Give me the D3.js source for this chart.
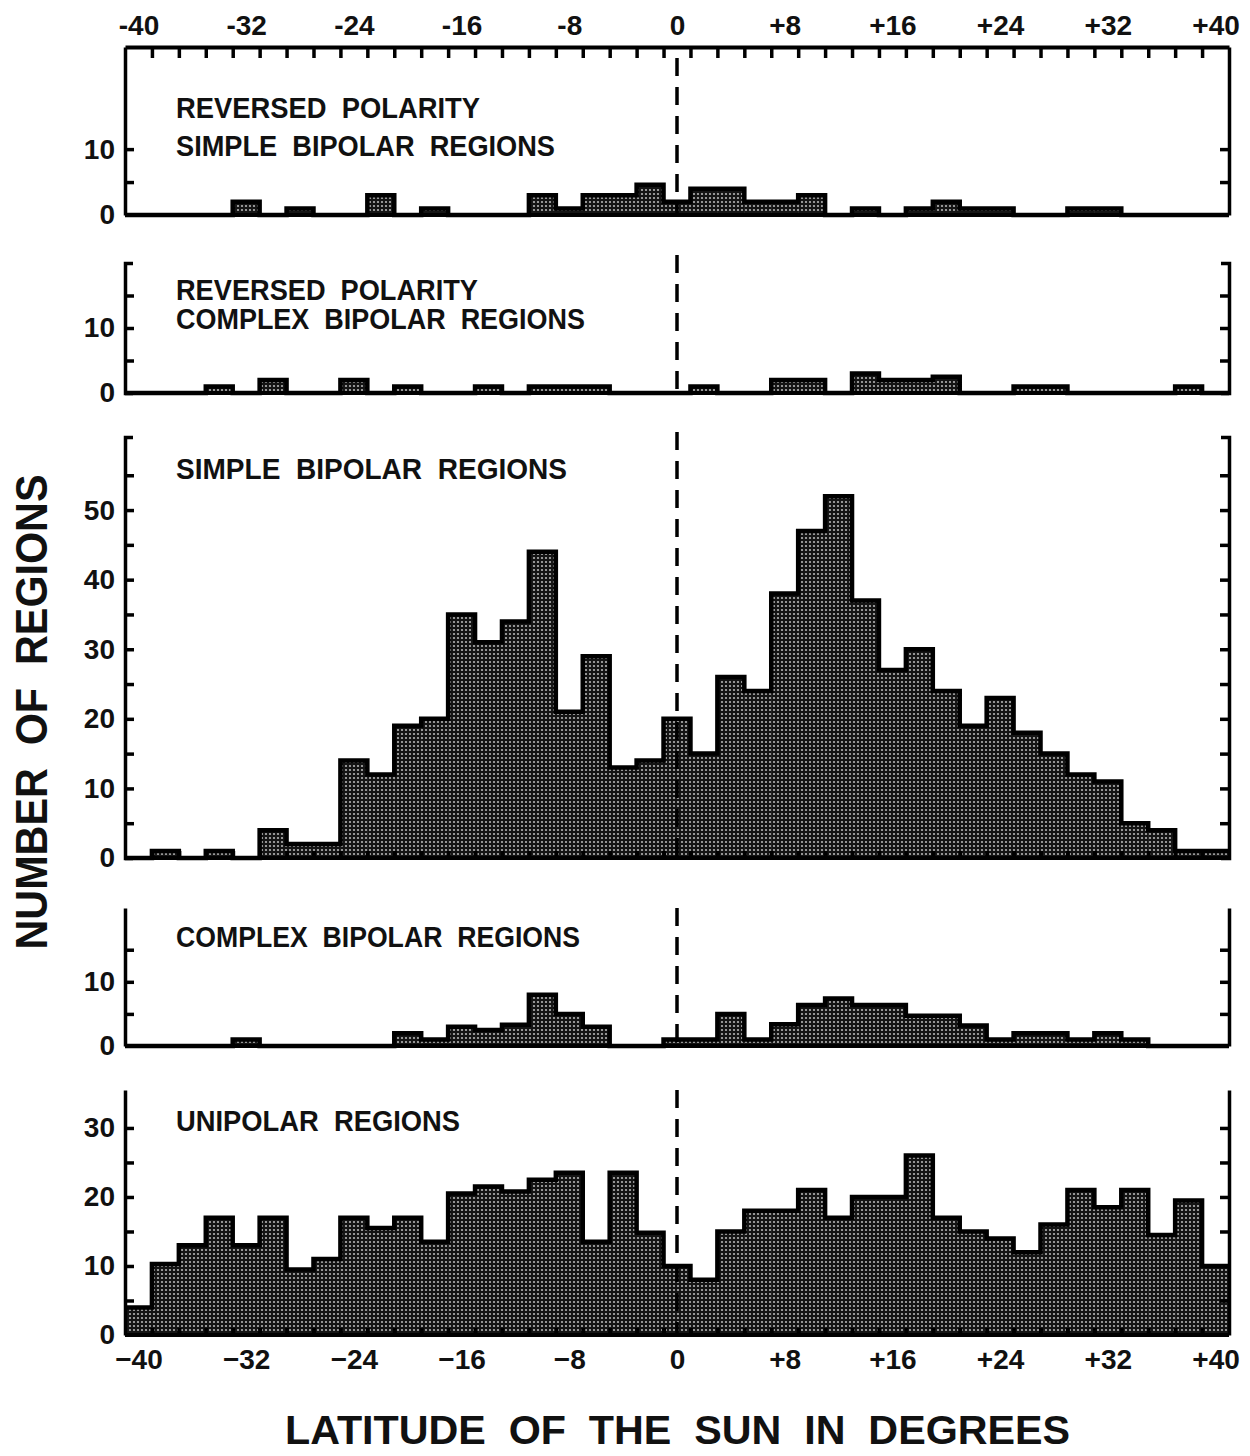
<!DOCTYPE html>
<html>
<head>
<meta charset="utf-8">
<script src="https://cdn.jsdelivr.net/npm/d3@7"></script>
<style>
  body { margin: 0; background: #fff; }
  text { font-family: "Liberation Sans", Arial, sans-serif; font-weight: bold; fill: #111; }
</style>
</head>
<body>
<div id="chart-area"></div>
<script>
// latitude bins (2 degree wide, centred on even degrees)
const latitudes = [-40, -38, -36, -34, -32, -30, -28, -26, -24, -22, -20, -18, -16, -14, -12, -10, -8, -6, -4, -2,
	0, 2, 4, 6, 8, 10, 12, 14, 16, 18, 20, 22, 24, 26, 28, 30, 32, 34, 36, 38, 40];

const revSimple = [0, 0, 0, 0, 2, 0, 1, 0, 0, 3, 0, 1, 0, 0, 0, 3, 1, 3, 3, 4.6,
	2, 4, 4, 2, 2, 3, 0, 1, 0, 1, 2, 1, 1, 0, 0, 1, 1, 0, 0, 0, 0];

const revComplex = [0, 0, 0, 1, 0, 2, 0, 0, 2, 0, 1, 0, 0, 1, 0, 1, 1, 1, 0, 0,
	0, 1, 0, 0, 2, 2, 0, 3, 2, 2, 2.5, 0, 0, 1, 1, 0, 0, 0, 0, 1, 0];

const simpleBipolar = [0, 1, 0, 1, 0, 4, 2, 2, 14, 12, 19, 20, 35, 31, 34, 44, 21, 29, 13, 14,
	20, 15, 26, 24, 38, 47, 52, 37, 27, 30, 24, 19, 23, 18, 15, 12, 11, 5, 4, 1, 1];

const complexBipolar = [0, 0, 0, 0, 1, 0, 0, 0, 0, 0, 2, 1, 3, 2.5, 3.3, 8, 5, 3, 0, 0,
	1, 1, 5, 1, 3.4, 6.4, 7.4, 6.4, 6.4, 4.7, 4.7, 3.2, 1, 2, 2, 1, 2, 1, 0, 0, 0];

const unipolar = [4, 10.3, 13, 17, 13, 17, 9.5, 11, 17, 15.5, 17, 13.5, 20.5, 21.5, 20.8, 22.5, 23.5, 13.5, 23.5, 14.8,
	10, 8, 15, 18, 18, 21, 17, 20, 20, 26, 17, 15, 14, 12, 16, 21, 18.5, 21, 14.5, 19.5, 10];

// axis labels
const xTickValues = [-40, -32, -24, -16, -8, 0, 8, 16, 24, 32, 40];
const xTopLabels = ["-40", "-32", "-24", "-16", "-8", "0", "+8", "+16", "+24", "+32", "+40"];
const xBottomLabels = ["\u221240", "\u221232", "\u221224", "\u221216", "\u22128", "0", "+8", "+16", "+24", "+32", "+40"];

const width = 1250, height = 1456;

let svg = d3.select("#chart-area")
	.append("svg")
	.attr("width", width)
	.attr("height", height);

svg.append("rect").attr("width", width).attr("height", height).attr("fill", "#fff");

// halftone screen like the printed figure
let pat = svg.append("defs").append("pattern")
	.attr("id", "halftone")
	.attr("width", 4).attr("height", 4)
	.attr("patternUnits", "userSpaceOnUse");
pat.append("rect").attr("width", 4).attr("height", 4).attr("fill", "#141414");
pat.append("circle").attr("cx", 2).attr("cy", 2).attr("r", 1.1).attr("fill", "#b4b4b4");

let x = d3.scaleLinear()
	.domain([-41, 41])
	.range([125, 1229]);

const binEdges = d3.range(-39, 40, 2);

const panels = [
	{data: revSimple, top: 47, base: 215, max: 25.5, ticks: [5, 10], labels: [0, 10], dashTop: 58,
		title: [["REVERSED  POLARITY", 118, 304], ["SIMPLE  BIPOLAR  REGIONS", 156, 379]], outer: 0},
	{data: revComplex, top: 263, base: 393, max: 20, ticks: [5, 10, 15], labels: [0, 10], dashTop: 255,
		title: [["REVERSED  POLARITY", 300, 302], ["COMPLEX  BIPOLAR  REGIONS", 329, 409]], outer: 8},
	{data: simpleBipolar, top: 437, base: 858, max: 60.5, ticks: [5, 10, 15, 20, 25, 30, 35, 40, 45, 50, 55], labels: [0, 10, 20, 30, 40, 50], dashTop: 432,
		title: [["SIMPLE  BIPOLAR  REGIONS", 479, 391]], outer: 8, bottomTicks: true},
	{data: complexBipolar, top: 908, base: 1046, max: 21.5, ticks: [5, 10, 15], labels: [0, 10], dashTop: 908,
		title: [["COMPLEX  BIPOLAR  REGIONS", 947, 404]], outer: 0},
	{data: unipolar, top: 1090, base: 1335, max: 35.5, ticks: [5, 10, 15, 20, 25, 30], labels: [0, 10, 20, 30], dashTop: 1090,
		title: [["UNIPOLAR  REGIONS", 1131, 284]], outer: 0, bottomTicks: true}
];

panels.forEach(function(p) {
	let g = svg.append("g");

	let y = d3.scaleLinear()
		.domain([0, p.max])
		.range([p.base, p.top]);

	// bars (fill only)
	g.append("g")
		.selectAll("rect")
		.data(p.data)
		.enter()
		.append("rect")
		.attr("x", (d, i) => x(latitudes[i] - 1))
		.attr("width", (d, i) => x(latitudes[i] + 1) - x(latitudes[i] - 1) + 0.5)
		.attr("y", d => y(d))
		.attr("height", d => y(0) - y(d))
		.attr("fill", "url(#halftone)");

	// histogram outline
	let pts = [];
	p.data.forEach(function(v, i) {
		pts.push([latitudes[i] - 1, v]);
		pts.push([latitudes[i] + 1, v]);
	});
	let outline = d3.line()
		.x(d => x(d[0]))
		.y(d => y(d[1]));
	g.append("path")
		.attr("d", outline(pts))
		.attr("fill", "none")
		.attr("stroke", "#000")
		.attr("stroke-width", 4.5);

	// baseline
	g.append("line")
		.attr("x1", x(-41)).attr("x2", x(41))
		.attr("y1", y(0)).attr("y2", y(0))
		.attr("stroke", "#000").attr("stroke-width", 4);

	// inward ticks along the bottom
	if (p.bottomTicks) {
		let bt = g.append("g")
			.attr("transform", "translate(0," + y(0) + ")")
			.call(d3.axisTop(x).tickValues(binEdges).tickSize(7).tickSizeOuter(0).tickFormat(""));
		bt.select(".domain").remove();
		bt.selectAll("line").attr("stroke", "#000").attr("stroke-width", 4);
	}

	// left axis, ticks pointing in
	let la = g.append("g")
		.attr("transform", "translate(" + x(-41) + ",0)")
		.call(d3.axisRight(y).tickValues(p.ticks).tickSize(9).tickSizeOuter(p.outer).tickFormat(""));
	la.select(".domain").attr("stroke", "#000").attr("stroke-width", 3.5).attr("fill", "none");
	la.selectAll("line").attr("stroke", "#000").attr("stroke-width", 3.5);

	// right axis
	let ra = g.append("g")
		.attr("transform", "translate(" + x(41) + ",0)")
		.call(d3.axisLeft(y).tickValues(p.ticks).tickSize(9).tickSizeOuter(p.outer).tickFormat(""));
	ra.select(".domain").attr("stroke", "#000").attr("stroke-width", 3.5).attr("fill", "none");
	ra.selectAll("line").attr("stroke", "#000").attr("stroke-width", 3.5);

	// y tick labels
	let yl = g.append("g")
		.attr("transform", "translate(" + x(-41) + ",0)")
		.call(d3.axisLeft(y).tickValues(p.labels).tickSize(0).tickPadding(10).tickFormat(d3.format("d")));
	yl.select(".domain").remove();
	yl.selectAll("text")
		.attr("font-size", "28px")
		.attr("font-family", "Liberation Sans, Arial, sans-serif")
		.attr("font-weight", "bold")
		.attr("fill", "#111");

	// dashed zero line
	g.append("line")
		.attr("x1", x(0)).attr("x2", x(0))
		.attr("y1", p.dashTop).attr("y2", y(0))
		.attr("stroke", "#000")
		.attr("stroke-width", 3.5)
		.attr("stroke-dasharray", "18,11");

	// panel titles
	p.title.forEach(function(t) {
		g.append("text")
			.attr("x", 176)
			.attr("y", t[1])
			.attr("font-size", "29px")
			.attr("textLength", t[2])
			.attr("lengthAdjust", "spacingAndGlyphs")
			.style("white-space", "pre")
			.text(t[0]);
	});
});

// top axis of first panel
let topY = panels[0].top;
let ta = svg.append("g")
	.attr("transform", "translate(0," + topY + ")")
	.call(d3.axisBottom(x).tickValues(binEdges).tickSize(11).tickSizeOuter(0).tickFormat(""));
ta.select(".domain").attr("stroke", "#000").attr("stroke-width", 4);
ta.selectAll("line").attr("stroke", "#000").attr("stroke-width", 3.5);

let tl = svg.append("g")
	.attr("transform", "translate(0," + topY + ")")
	.call(d3.axisTop(x).tickValues(xTickValues).tickSize(0).tickPadding(12)
		.tickFormat((d, i) => xTopLabels[i]));
tl.select(".domain").remove();
tl.selectAll("text")
	.attr("font-size", "28px")
	.attr("font-family", "Liberation Sans, Arial, sans-serif")
	.attr("font-weight", "bold")
	.attr("fill", "#111");

// bottom axis labels of last panel
let baseY = panels[4].base;
let bl = svg.append("g")
	.attr("transform", "translate(0," + baseY + ")")
	.call(d3.axisBottom(x).tickValues(xTickValues).tickSize(0).tickPadding(14)
		.tickFormat((d, i) => xBottomLabels[i]));
bl.select(".domain").remove();
bl.selectAll("text")
	.attr("font-size", "28px")
	.attr("font-family", "Liberation Sans, Arial, sans-serif")
	.attr("font-weight", "bold")
	.attr("fill", "#111");

// axis titles
svg.append("text")
	.attr("transform", "translate(47,712) rotate(-90)")
	.attr("text-anchor", "middle")
	.attr("font-size", "44px")
	.attr("textLength", 475)
	.attr("lengthAdjust", "spacingAndGlyphs")
	.style("white-space", "pre")
	.text("NUMBER  OF  REGIONS");

svg.append("text")
	.attr("x", 285)
	.attr("y", 1444)
	.attr("font-size", "40px")
	.attr("textLength", 785)
	.attr("lengthAdjust", "spacingAndGlyphs")
	.style("white-space", "pre")
	.text("LATITUDE  OF  THE  SUN  IN  DEGREES");
</script>
</body>
</html>
